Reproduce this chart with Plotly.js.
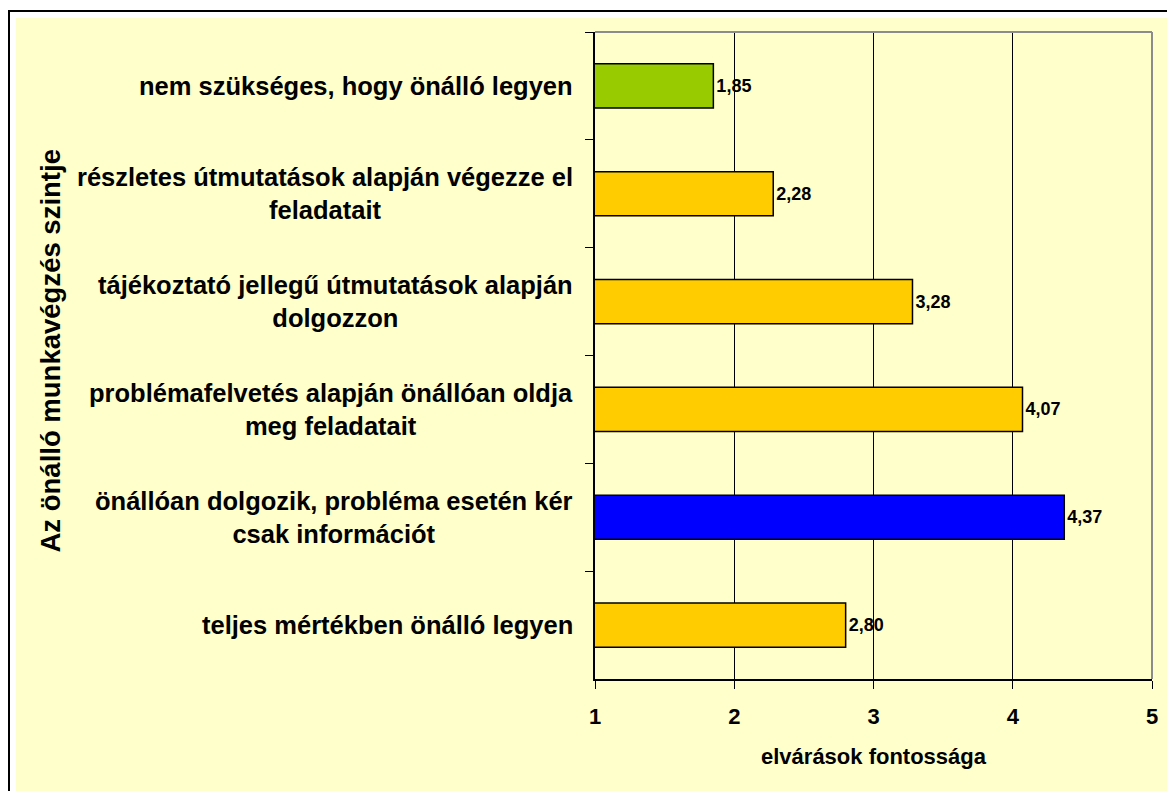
<!DOCTYPE html>
<html>
<head>
<meta charset="utf-8">
<script src="https://cdn.plot.ly/plotly-3.0.1.min.js"></script>
<style>
  html, body { margin: 0; padding: 0; background: #ffffff; overflow: hidden; width: 1167px; height: 791px; }
  #frame { position: absolute; left: 8px; top: 10px; width: 1200px; height: 820px; border: 2px solid #000; box-sizing: border-box; }
  #chart { position: absolute; left: 16px; top: 18px; width: 1151px; height: 773px; }
</style>
</head>
<body>
<div id="frame"></div>
<div id="chart"></div>
<script>
// Data
const categories = [
  'nem szükséges, hogy önálló legyen',
  'részletes útmutatások alapján végezze el<br>feladatait',
  'tájékoztató jellegű útmutatások alapján<br>dolgozzon',
  'problémafelvetés alapján önállóan oldja<br>meg feladatait',
  'önállóan dolgozik, probléma esetén kér<br>csak információt',
  'teljes mértékben önálló legyen'
];
const values = [1.85, 2.28, 3.28, 4.07, 4.37, 2.80];
const barColors = ['#99CC00', '#FFCC00', '#FFCC00', '#FFCC00', '#0000FF', '#FFCC00'];
const xTickValues = [1, 2, 3, 4, 5];
const xTitle = 'elvárások fontossága';
const yTitle = 'Az önálló munkavégzés szintje';

const FONT = 'Liberation Sans, Arial, sans-serif';

const trace = {
  type: 'bar',
  orientation: 'h',
  y: categories,
  x: values,
  marker: { color: barColors, line: { color: '#000000', width: 1.5 } },
  texttemplate: '%{x:.2f}',
  textposition: 'outside',
  cliponaxis: false,
  textfont: { family: FONT, size: 18, weight: 'bold', color: '#000000' },
  hoverinfo: 'none'
};

const annotations = categories.map(c => ({
  xref: 'paper', yref: 'y',
  x: 0, y: c,
  xanchor: 'right', yanchor: 'middle',
  xshift: -20,
  align: 'center',
  showarrow: false,
  text: c,
  font: { family: FONT, size: 25.5, weight: 'bold', color: '#000000' }
}));
annotations.push({
  xref: 'paper', yref: 'paper',
  x: 0, y: 0.5,
  xshift: -545,
  yshift: 4,
  xanchor: 'center', yanchor: 'middle',
  textangle: -90,
  showarrow: false,
  text: yTitle,
  font: { family: FONT, size: 27.5, weight: 'bold', color: '#000000' }
});

const layout = {
  width: 1151,
  height: 773,
  paper_bgcolor: '#FFFFCC',
  plot_bgcolor: '#FFFFCC',
  margin: { l: 579, r: 15, t: 14, b: 112 },
  separators: ',.',
  showlegend: false,
  bargap: 0.59,
  font: { family: FONT, color: '#000000' },
  xaxis: {
    range: [1, 5],
    tickvals: xTickValues,
    tickformat: 'd',
    ticks: 'outside',
    ticklen: 8,
    tickwidth: 1,
    tickcolor: '#000000',
    showgrid: true,
    gridcolor: '#000000',
    gridwidth: 1,
    zeroline: false,
    showline: true,
    linecolor: '#000000',
    linewidth: 2,
    tickfont: { family: FONT, size: 22, weight: 'bold', color: '#000000' },
    ticklabelstandoff: 9,
    title: { text: xTitle, standoff: 20, font: { family: FONT, size: 22, weight: 'bold', color: '#000000' } }
  },
  yaxis: {
    type: 'category',
    autorange: 'reversed',
    showticklabels: false,
    ticks: 'outside',
    tickson: 'boundaries',
    ticklen: 8,
    tickwidth: 1,
    tickcolor: '#000000',
    showgrid: false,
    zeroline: false,
    showline: true,
    linecolor: '#000000',
    linewidth: 2
  },
  shapes: [
    { type: 'line', xref: 'paper', yref: 'paper', x0: 0, x1: 1, y0: 1, y1: 1, line: { color: '#8C8C8C', width: 2 }, layer: 'above' },
    { type: 'line', xref: 'paper', yref: 'paper', x0: 1, x1: 1, y0: 0, y1: 1, line: { color: '#8C8C8C', width: 2 }, layer: 'above' }
  ],
  annotations: annotations
};

Plotly.newPlot('chart', [trace], layout, { displayModeBar: false, staticPlot: true });
</script>
</body>
</html>
